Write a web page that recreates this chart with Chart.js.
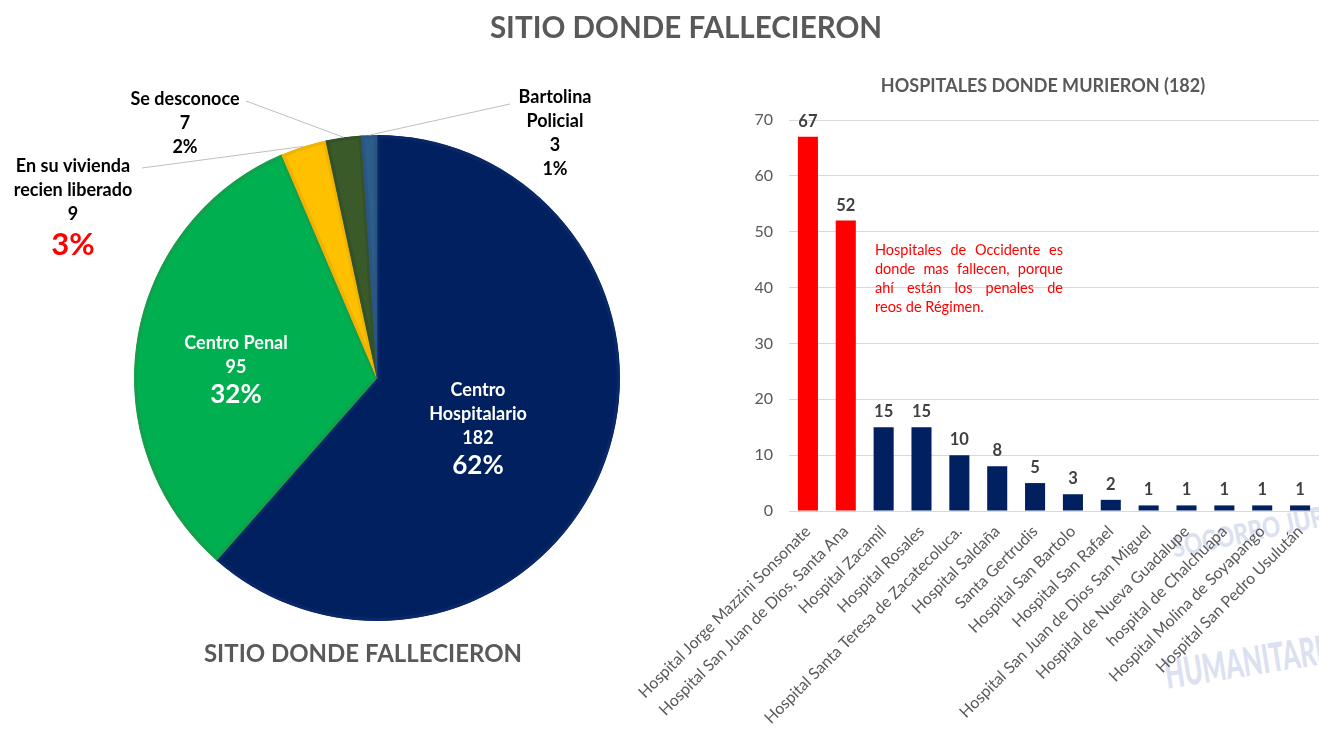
<!DOCTYPE html>
<html>
<head>
<meta charset="utf-8">
<script src="https://cdn.jsdelivr.net/npm/chart.js@4.4.1/dist/chart.umd.min.js"></script>
<style>
  html, body { margin: 0; padding: 0; background: #fff; }
  body { width: 1319px; height: 731px; position: relative; overflow: hidden; font-family: Lato, "Open Sans", sans-serif; }
  #pieWrap { position: absolute; left: 0; top: 0; width: 700px; height: 731px; }
  #barWrap { position: absolute; left: 620px; top: 0; width: 699px; height: 731px; }
  .title { position: absolute; color: #595959; font-weight: bold; white-space: nowrap; transform: translateX(-50%); }
  #mainTitle { left: 686px; top: 9px; font-size: 29.6px; }
  #pieTitle { left: 363px; top: 638px; font-size: 24px; }
  #barTitle { left: 1043px; top: 74px; font-size: 18px; }
  #note { position: absolute; left: 875px; top: 240px; width: 188px; color: #ff0000; font-size: 14.5px; line-height: 19px; }
  #note div { text-align: justify; text-align-last: justify; white-space: nowrap; }
  #note div:last-child { text-align-last: left; }
  .wm { position: absolute; color: #9aaad8; opacity: 0.35; font-weight: 900; white-space: nowrap; transform-origin: left center; }
</style>
</head>
<body>
<div class="wm" style="left:1172px; top:530px; font-size:28px; transform: rotate(-12deg) scaleX(0.8);">SOCORRO JURÍDICO</div>
<div class="wm" style="left:1165px; top:650px; font-size:40px; transform: rotate(-9deg) scaleX(0.62);">HUMANITARIO</div>
<div id="pieWrap"><canvas id="pieChart" width="700" height="731"></canvas></div>
<div id="barWrap"><canvas id="barChart" width="699" height="731"></canvas></div>
<div class="title" id="mainTitle">SITIO DONDE FALLECIERON</div>
<div class="title" id="pieTitle">SITIO DONDE FALLECIERON</div>
<div class="title" id="barTitle">HOSPITALES DONDE MURIERON (182)</div>
<div id="note">
  <div>Hospitales de Occidente es</div>
  <div>donde mas fallecen, porque</div>
  <div>ahí están los penales de</div>
  <div>reos de Régimen.</div>
</div>
<script>
// Sitio donde fallecieron (pie)
const sitios = ['Centro Hospitalario', 'Centro Penal', 'En su vivienda recien liberado', 'Se desconoce', 'Bartolina Policial'];
const sitiosValues = [182, 95, 9, 7, 3];
const sitiosPct = ['62%', '32%', '3%', '2%', '1%'];
const sitiosColors = ['#002060', '#00b050', '#ffc000', '#3a5a2a', '#2e5d8c'];
const sitiosBorders = ['#0a2768', '#12a04c', '#f0b400', '#34522a', '#2a5684'];

// Hospitales donde murieron (bars)
const hospitales = [
    'Hospital Jorge Mazzini Sonsonate', 'Hospital San Juan de Dios, Santa Ana', 'Hospital Zacamil',
    'Hospital Rosales', 'Hospital Santa Teresa de Zacatecoluca.', 'Hospital Saldaña', 'Santa Gertrudis',
    'Hospital San Bartolo', 'Hospital San Rafael', 'Hospital San Juan de Dios San Miguel',
    'Hospital de Nueva Guadalupe', 'hospital de Chalchuapa', 'Hospital Molina de Soyapango',
    'Hospital San Pedro Usulután'
];
const muertes = [67, 52, 15, 15, 10, 8, 5, 3, 2, 1, 1, 1, 1, 1];
const barColors = muertes.map((v, i) => i < 2 ? '#ff0000' : '#002060');
const yTicks = [0, 10, 20, 30, 40, 50, 60, 70];

const FONT = 'Lato, "Open Sans", sans-serif';

// text placed next to each slice
const pieLabels = [
    { lines: ['Centro', 'Hospitalario', '182'], x: 478, y: 390, color: '#ffffff', pctSize: 26 },
    { lines: ['Centro Penal', '95'], x: 236, y: 343, color: '#ffffff', pctSize: 26 },
    { lines: ['En su vivienda', 'recien liberado', '9'], x: 73, y: 166, color: '#000000', pctColor: '#ff0000', pctSize: 31, lead: [142, 168] },
    { lines: ['Se desconoce', '7'], x: 185, y: 99, color: '#000000', pctSize: 18, lead: [246, 101] },
    { lines: ['Bartolina', 'Policial', '3'], x: 555, y: 97, color: '#000000', pctSize: 18, lead: [510, 104] }
];

const pieLabelPlugin = {
    id: 'pieLabels',
    afterDraw(chart) {
        const ctx = chart.ctx;
        const arcs = chart.getDatasetMeta(0).data;
        ctx.save();
        ctx.textAlign = 'center';
        ctx.textBaseline = 'middle';
        pieLabels.forEach((lab, i) => {
            if (lab.lead) {
                const a = arcs[i];
                const mid = (a.startAngle + a.endAngle) / 2;
                const ex = a.x + Math.cos(mid) * a.outerRadius;
                const ey = a.y + Math.sin(mid) * a.outerRadius;
                ctx.strokeStyle = '#bfbfbf';
                ctx.lineWidth = 1;
                ctx.beginPath();
                ctx.moveTo(lab.lead[0], lab.lead[1]);
                ctx.lineTo(ex, ey);
                ctx.stroke();
            }
            ctx.fillStyle = lab.color;
            ctx.font = 'bold 18px ' + FONT;
            let y = lab.y;
            lab.lines.forEach(t => {
                ctx.fillText(t, lab.x, y);
                y += 24;
            });
            ctx.fillStyle = lab.pctColor || lab.color;
            ctx.font = 'bold ' + lab.pctSize + 'px ' + FONT;
            y += (lab.pctSize - 18) / 2;
            ctx.fillText(sitiosPct[i], lab.x, y);
        });
        ctx.restore();
    }
};

new Chart(document.getElementById('pieChart'), {
    type: 'pie',
    data: {
        labels: sitios,
        datasets: [{
            data: sitiosValues,
            backgroundColor: sitiosColors,
            borderColor: sitiosBorders,
            borderWidth: 3,
            borderAlign: 'inner'
        }]
    },
    options: {
        responsive: false,
        animation: false,
        layout: { padding: { left: 134, top: 135, right: 80, bottom: 110 } },
        plugins: { legend: { display: false }, tooltip: { enabled: false } }
    },
    plugins: [pieLabelPlugin]
});

const barValuePlugin = {
    id: 'barValues',
    afterDatasetsDraw(chart) {
        const ctx = chart.ctx;
        ctx.save();
        ctx.fillStyle = '#404040';
        ctx.font = 'bold 16.5px ' + FONT;
        ctx.textAlign = 'center';
        ctx.textBaseline = 'bottom';
        chart.getDatasetMeta(0).data.forEach((bar, i) => {
            ctx.fillText(muertes[i], bar.x, bar.y - 7);
        });
        ctx.restore();
    }
};

new Chart(document.getElementById('barChart'), {
    type: 'bar',
    data: {
        labels: hospitales,
        datasets: [{
            data: muertes,
            backgroundColor: barColors,
            barPercentage: 0.53,
            categoryPercentage: 1
        }]
    },
    options: {
        responsive: false,
        animation: false,
        layout: { padding: { top: 120, right: 0, left: 0, bottom: 0 } },
        plugins: { legend: { display: false }, tooltip: { enabled: false } },
        scales: {
            x: {
                grid: { display: false },
                border: { color: '#d9d9d9' },
                ticks: {
                    color: '#595959',
                    font: { size: 16, family: FONT },
                    maxRotation: 45,
                    minRotation: 45,
                    autoSkip: false,
                    padding: 3
                },
                afterFit(scale) {
                    scale.height = 220;
                    scale.paddingLeft = 0;
                    scale.paddingRight = 0;
                }
            },
            y: {
                min: 0,
                max: 70,
                afterBuildTicks(scale) { scale.ticks = yTicks.map(v => ({ value: v })); },
                grid: { color: '#d9d9d9', drawTicks: false },
                border: { display: false },
                ticks: {
                    color: '#595959',
                    font: { size: 16, family: FONT },
                    padding: 16
                },
                afterFit(scale) {
                    scale.width = 169;
                    scale.paddingTop = 0;
                    scale.paddingBottom = 0;
                }
            }
        }
    },
    plugins: [barValuePlugin]
});
</script>
</body>
</html>
